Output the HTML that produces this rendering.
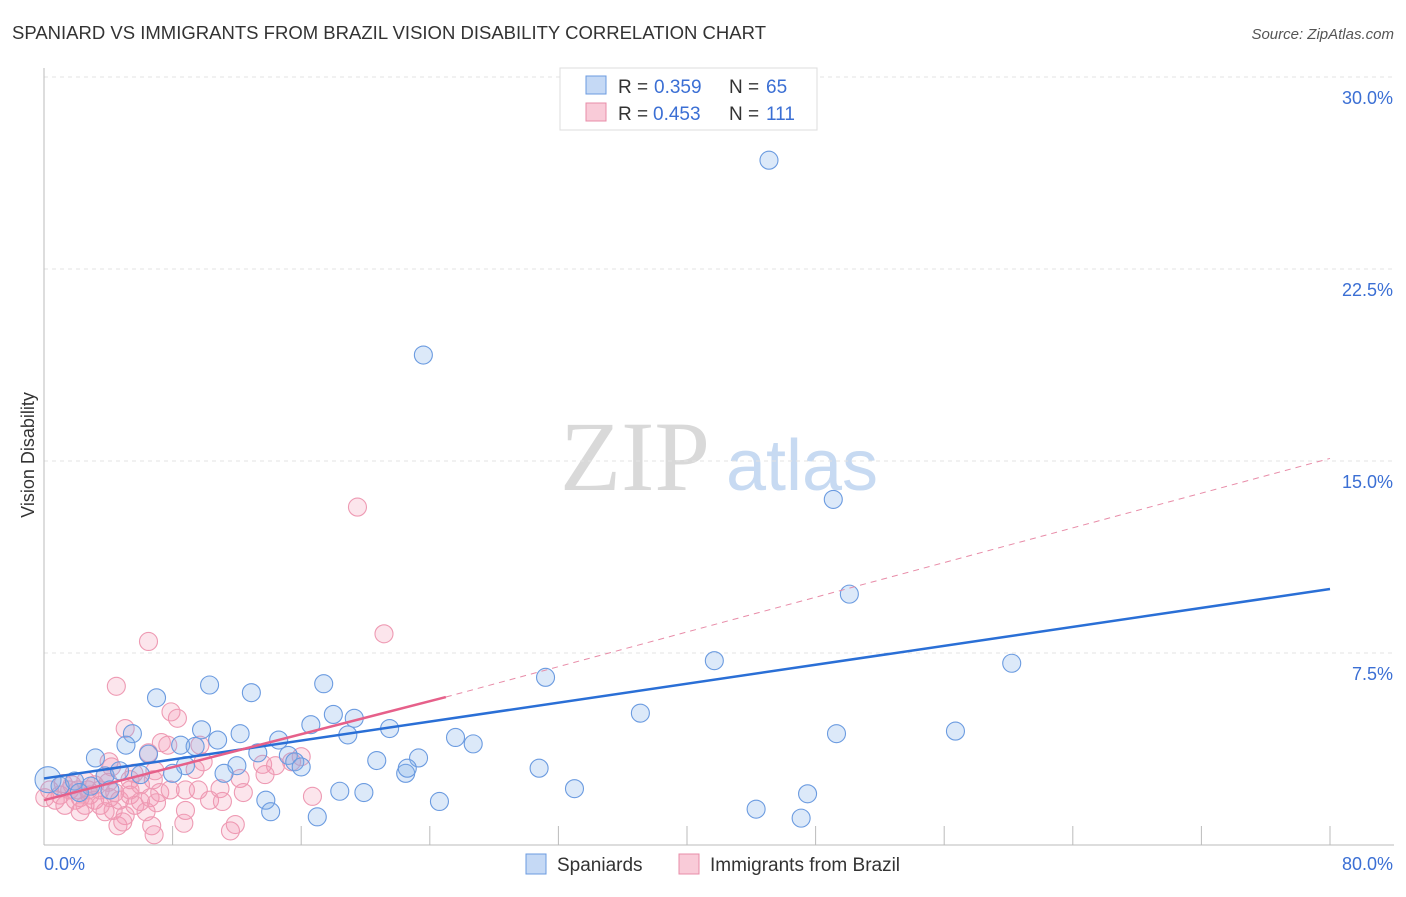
<!DOCTYPE html>
<html><head><meta charset="utf-8"><style>
body{margin:0;background:#fff;font-family:"Liberation Sans",sans-serif}
</style></head><body>
<svg id="c" width="1406" height="892" xmlns="http://www.w3.org/2000/svg" font-family="Liberation Sans, sans-serif">
<text x="12" y="39" font-size="18.5" fill="#333" textLength="754">SPANIARD VS IMMIGRANTS FROM BRAZIL VISION DISABILITY CORRELATION CHART</text>
<text x="1394" y="39" font-size="15" fill="#555" text-anchor="end" font-style="italic">Source: ZipAtlas.com</text>
<text transform="translate(34,455) rotate(-90)" font-size="18" fill="#333" text-anchor="middle">Vision Disability</text>
<g>
<text x="635" y="490" font-size="100" fill="#d9d9d9" style="font-family:'Liberation Serif',serif" text-anchor="middle">ZIP</text>
<text x="802" y="490" font-size="72" fill="#c7daf2" text-anchor="middle">atlas</text>
</g>
<g id="grid"></g><g id="pts"></g><g id="lines"></g>
<g>
<rect x="560" y="68" width="257" height="62" fill="#fff" stroke="#ddd"/>
<rect x="586" y="76" width="20" height="18" fill="#c5d9f5" stroke="#6b9be0"/>
<text x="618" y="93" font-size="19" fill="#333">R =</text><text x="654" y="93" font-size="19" fill="#3b6fd4">0.359</text>
<text x="729" y="93" font-size="19" fill="#333">N =</text><text x="766" y="93" font-size="19" fill="#3b6fd4">65</text>
<rect x="586" y="103" width="20" height="18" fill="#f9cbd8" stroke="#e88ca8"/>
<text x="618" y="120" font-size="19" fill="#333">R =</text><text x="653" y="120" font-size="19" fill="#3b6fd4">0.453</text>
<text x="729" y="120" font-size="19" fill="#333">N =</text><text x="766" y="120" font-size="19" fill="#3b6fd4">111</text>
</g>
<g>
<rect x="526" y="854" width="20" height="20" fill="#c5d9f5" stroke="#6b9be0"/>
<text x="557" y="871" font-size="19" fill="#333">Spaniards</text>
<rect x="679" y="854" width="20" height="20" fill="#f9cbd8" stroke="#e88ca8"/>
<text x="710" y="871" font-size="19" fill="#333">Immigrants from Brazil</text>
</g>
</svg>
<script>
const yTicks=[7.5,15,22.5,30];
const yTickLabels=["7.5%","15.0%","22.5%","30.0%"];
const xTickVals=[0,8,16,24,32,40,48,56,64,72,80];
const blueX=[45.1,23.6,49.1,50.1,41.7,60.2,31.2,37.1,49.3,56.7,30.8,33.0,44.3,47.5,47.1,7.0,10.3,12.9,17.4,18.0,19.3,16.6,21.5,18.9,25.6,26.7,23.3,20.7,22.5,22.6,9.8,12.2,14.6,5.5,5.1,6.5,8.5,9.4,10.8,13.3,15.2,15.6,16.0,12.0,3.2,8.8,8.0,11.2,18.4,19.9,13.8,14.1,17.0,24.6,0.25,1.0,1.9,2.9,3.8,4.7,6.0,4.1,2.2];
const blueY=[26.75,19.14,13.5,9.8,7.2,7.1,6.55,5.15,4.35,4.45,3.0,2.2,1.4,2.0,1.05,5.75,6.25,5.95,6.3,5.1,4.95,4.7,4.55,4.3,4.2,3.95,3.4,3.3,2.8,3.0,4.5,4.35,4.1,4.35,3.9,3.55,3.9,3.85,4.1,3.6,3.5,3.25,3.05,3.1,3.4,3.1,2.8,2.8,2.1,2.05,1.75,1.3,1.1,1.7,2.55,2.3,2.5,2.3,2.7,2.9,2.75,2.15,2.05];
const pinkX=[19.5,21.15,6.5,4.5,7.9,8.3,5.05,7.3,7.7,9.7,6.5,9.9,13.6,14.4,16.0,15.4,4.05,4.2,5.6,3.8,12.2,6.8,5.35,2.6,1.75,0.35,1.0,1.6,2.25,2.85,3.5,1.3,0.7,0.05,1.95,2.55,3.15,4.1,4.7,5.35,6.0,6.6,7.2,4.3,5.05,5.65,3.8,2.25,5.35,8.8,10.95,12.4,7.0,6.35,10.3,11.1,4.6,4.9,6.7,6.85,8.7,11.6,11.9,16.7,8.8,7.85,3.15,3.5,6.0,4.0,1.2,2.1,2.75,4.4,6.9,9.4,13.75,9.6];
const pinkY=[13.2,8.25,7.95,6.2,5.2,4.95,4.55,4.0,3.9,3.9,3.6,3.25,3.15,3.1,3.45,3.25,3.25,3.05,2.8,2.7,2.6,2.55,2.55,2.5,2.35,2.15,1.95,2.15,1.85,1.95,2.15,1.55,1.75,1.85,1.75,1.55,1.75,1.85,1.75,1.95,1.7,1.85,2.05,1.35,1.15,1.55,1.3,1.3,2.15,2.15,2.2,2.05,1.65,1.3,1.75,1.7,0.75,0.9,0.75,0.4,0.85,0.55,0.8,1.9,1.35,2.15,2.35,1.55,2.35,2.45,2.4,2.15,2.15,2.05,2.9,2.95,2.75,2.15];
const blueLine=[[0,2.6],[80,10.0]];
const pinkLine=[[0,1.75],[25,5.78]];
const pinkDash=[[25,5.78],[80,15.1]];
const X=v=>44+v*(1330-44)/80, Y=v=>845-v*25.6;
const NS="http://www.w3.org/2000/svg";
function mk(p,t,a){const e=document.createElementNS(NS,t);for(const k in a)e.setAttribute(k,a[k]);p.appendChild(e);return e;}
const g=document.getElementById('grid'),pts=document.getElementById('pts'),ln=document.getElementById('lines'),svg=document.getElementById('c');
yTicks.forEach((t,i)=>{const l=mk(g,'line',{x1:44,x2:1394,y1:Y(t),y2:Y(t),stroke:'#e3e3e3','stroke-dasharray':'4,4'});


const tx=mk(svg,'text',{x:1393,y:Y(t)+27,'font-size':18,fill:'#3b6fd4','text-anchor':'end'});tx.textContent=yTickLabels[i];

});
mk(g,'line',{x1:44,x2:44,y1:68,y2:845,stroke:'#bbb'});
mk(g,'line',{x1:44,x2:1394,y1:845,y2:845,stroke:'#bbb'});
xTickVals.forEach(v=>{const l=mk(g,'line',{x1:X(v),x2:X(v),y1:826,y2:845,stroke:'#bbb'});

});
let t0=mk(svg,'text',{x:44,y:870,'font-size':18,fill:'#3b6fd4'});t0.textContent='0.0%';


let t1=mk(svg,'text',{x:1393,y:870,'font-size':18,fill:'#3b6fd4','text-anchor':'end'});t1.textContent='80.0%';


pinkX.forEach((x,i)=>{const c=mk(pts,'circle',{cx:X(x),cy:Y(pinkY[i]),r:9,fill:'rgba(244,150,178,0.25)',stroke:'#ee9ab3','stroke-width':1.1});

});
blueX.forEach((x,i)=>{const c=mk(pts,'circle',{cx:X(x),cy:Y(blueY[i]),r:i==54?13:9,fill:'rgba(130,175,232,0.28)',stroke:'#6b9be0','stroke-width':1.1});

});
let b=mk(ln,'line',{x1:X(blueLine[0][0]),y1:Y(blueLine[0][1]),x2:X(blueLine[1][0]),y2:Y(blueLine[1][1]),stroke:'#2a6fd6','stroke-width':2.5});


let p=mk(ln,'line',{x1:X(pinkLine[0][0]),y1:Y(pinkLine[0][1]),x2:X(pinkLine[1][0]),y2:Y(pinkLine[1][1]),stroke:'#e6608a','stroke-width':2.5});


let d=mk(ln,'line',{x1:X(pinkDash[0][0]),y1:Y(pinkDash[0][1]),x2:X(pinkDash[1][0]),y2:Y(pinkDash[1][1]),stroke:'#e88ca8','stroke-width':1,'stroke-dasharray':'6,5'});


</script>
</body></html>
